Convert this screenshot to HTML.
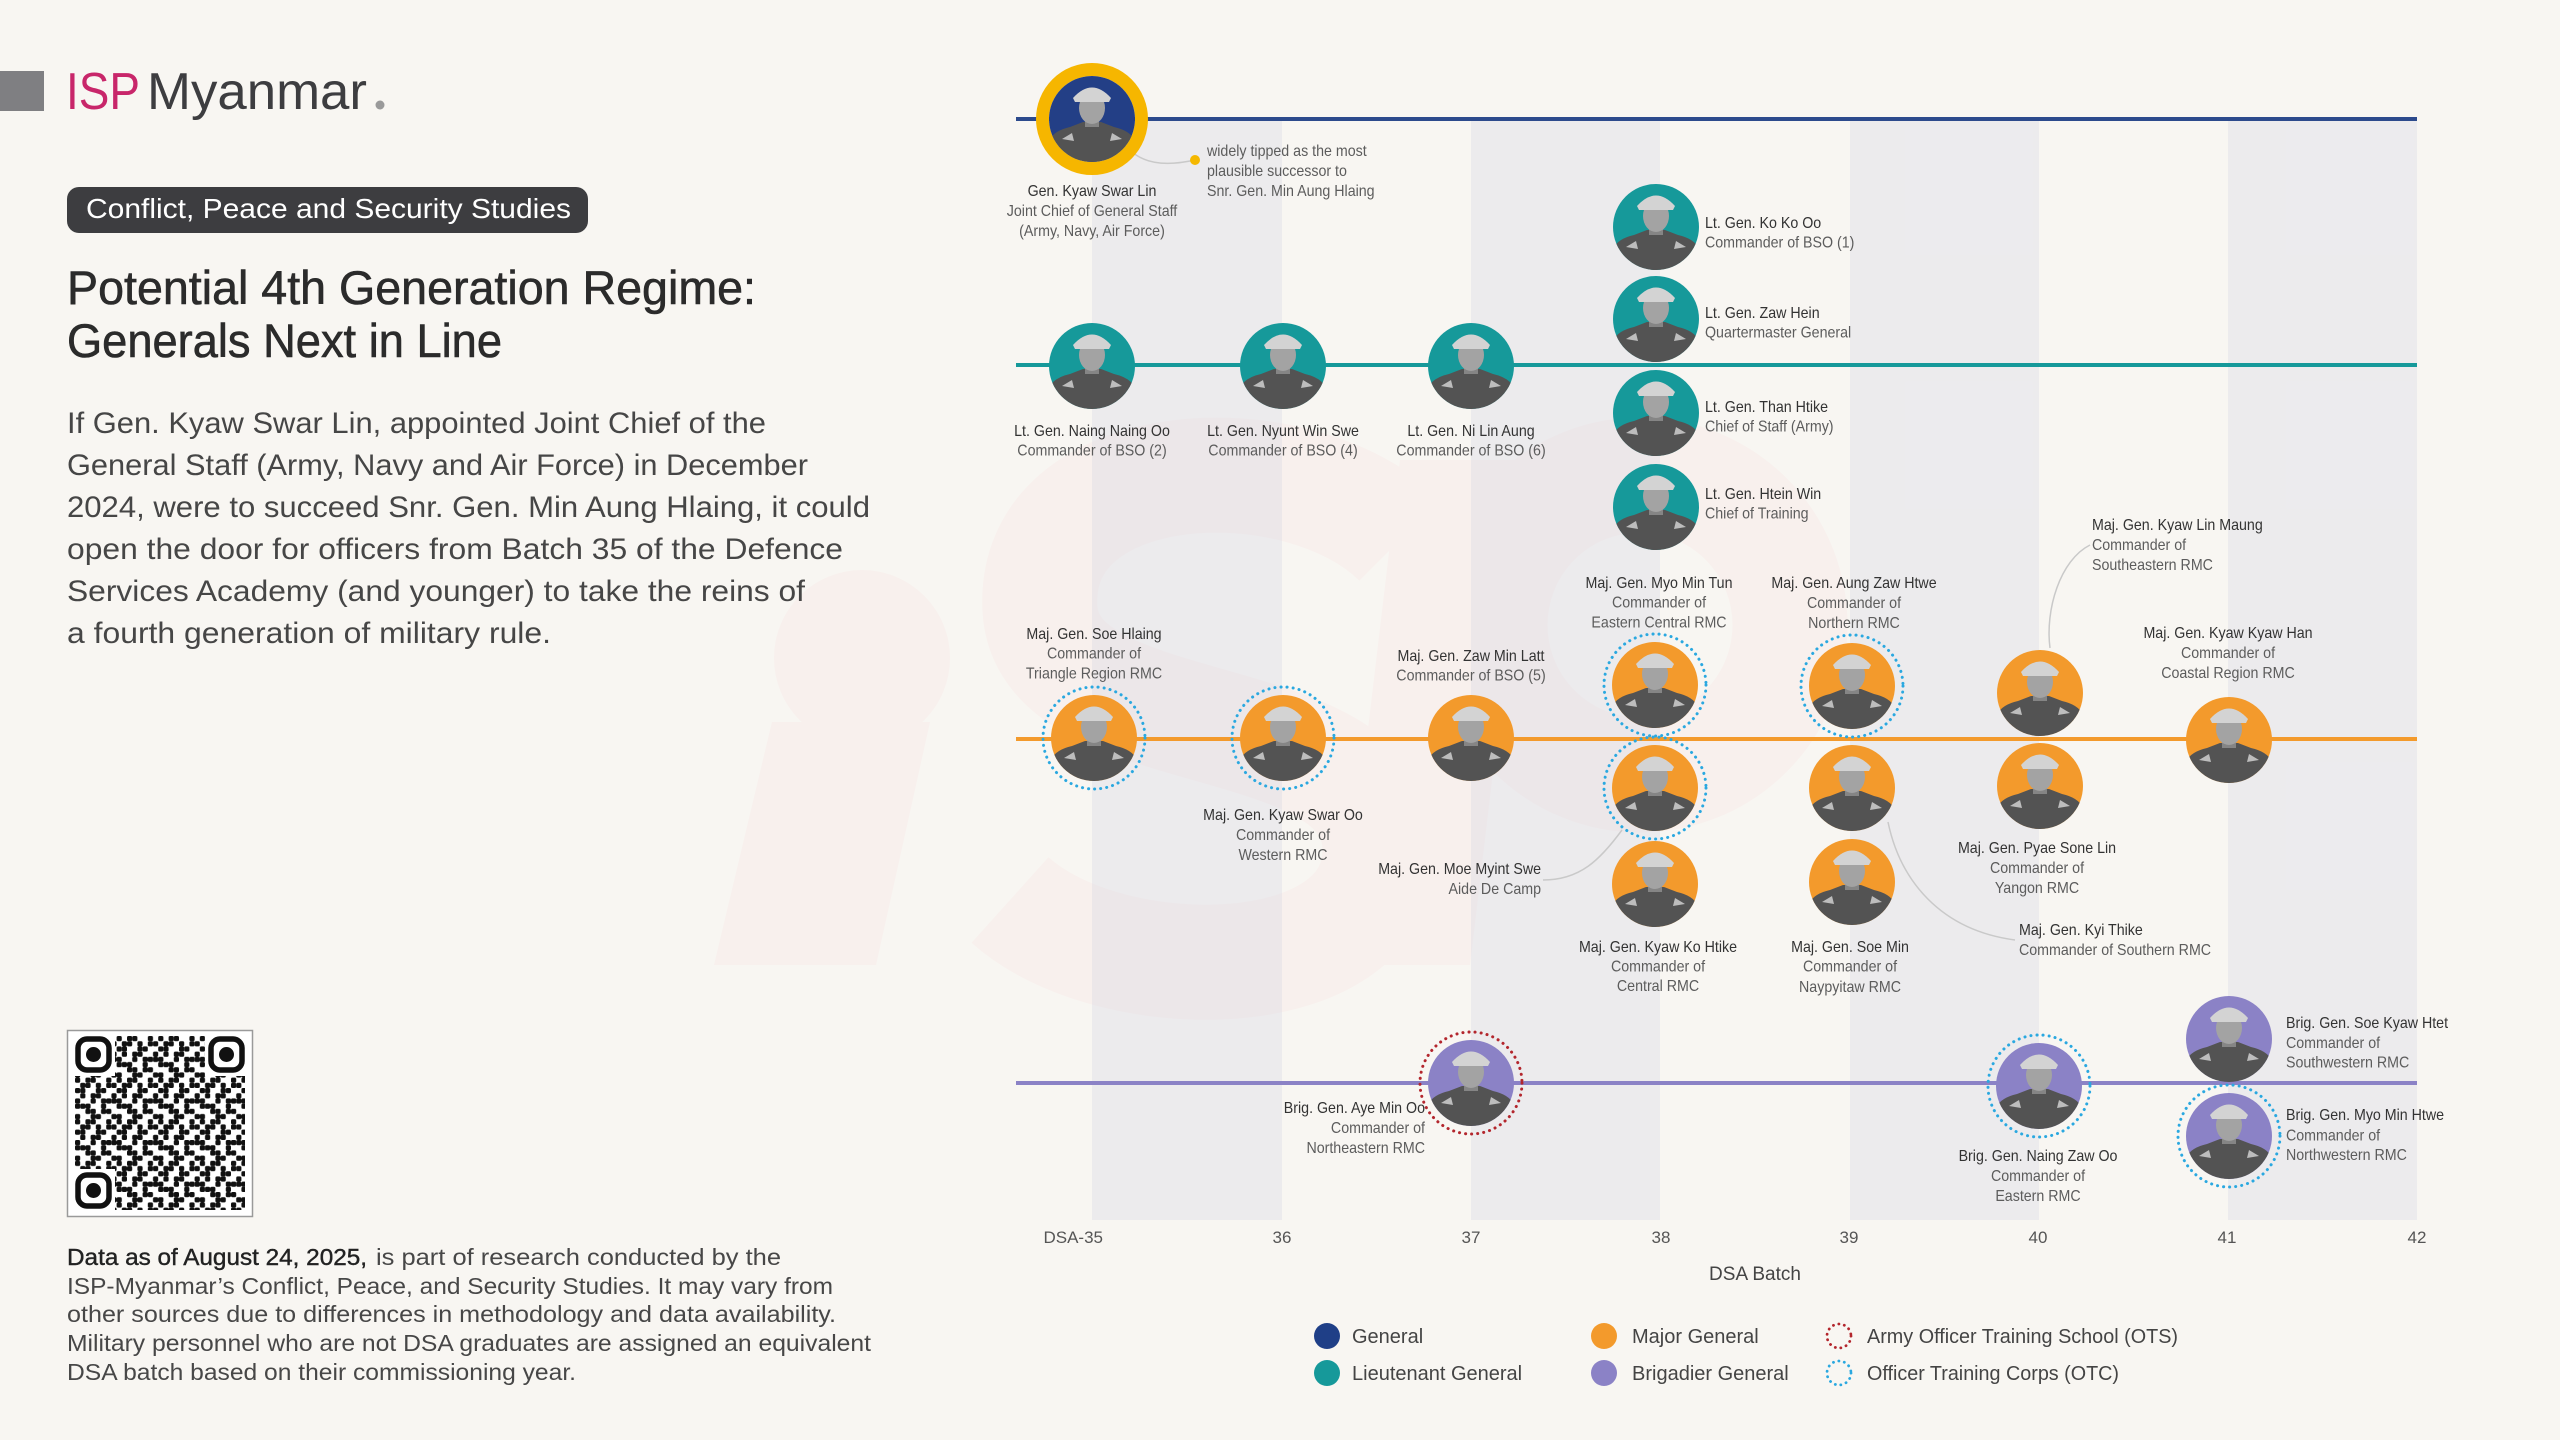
<!DOCTYPE html>
<html>
<head>
<meta charset="utf-8">
<style>
html,body{margin:0;padding:0;background:#f8f6f2;}
svg{display:block;font-family:"Liberation Sans",sans-serif;}
.lb text{font-size:16px;fill:#5c5c5c;}
.lb text.nm{fill:#333;}
.tk{font-size:17px;fill:#555;}
.lg{font-size:20px;fill:#444;}
</style>
</head>
<body>
<svg width="2560" height="1440" viewBox="0 0 2560 1440" xmlns="http://www.w3.org/2000/svg">
<defs>
  <clipPath id="pc"><circle cx="0" cy="0" r="43"/></clipPath>
  <g id="man">
    <path d="M-46 46 L-44 24 Q-40 12 -22 8 L-9 3 L9 3 L22 8 Q40 12 44 24 L46 46 Z" fill="#535353"/>
    <rect x="-7" y="-4" width="14" height="12" fill="#858585"/>
    <ellipse cx="0" cy="-11" rx="13" ry="16" fill="#a3a3a3"/>
    <path d="M-19 -21 Q0 -42 19 -21 L17 -17 L-17 -17 Z" fill="#d3d3d3"/>
    <path d="M-30 20 L-20 14 L-18 22 Z M30 20 L20 14 L18 22 Z" fill="#bdbdbd"/>
  </g>
  <pattern id="qr" x="75" y="1036" width="41.6" height="41.6" patternUnits="userSpaceOnUse">
    <g fill="#111">
      <rect x="0" y="0" width="5.2" height="5.2" rx="1.6"/><rect x="10.4" y="0" width="5.2" height="5.2" rx="1.6"/><rect x="15.6" y="0" width="5.2" height="5.2" rx="1.6"/><rect x="31.2" y="0" width="5.2" height="5.2" rx="1.6"/>
      <rect x="5.2" y="5.2" width="5.2" height="5.2" rx="1.6"/><rect x="10.4" y="5.2" width="5.2" height="5.2" rx="1.6"/><rect x="20.8" y="5.2" width="5.2" height="5.2" rx="1.6"/><rect x="31.2" y="5.2" width="5.2" height="5.2" rx="1.6"/><rect x="36.4" y="5.2" width="5.2" height="5.2" rx="1.6"/>
      <rect x="0" y="10.4" width="5.2" height="5.2" rx="1.6"/><rect x="5.2" y="10.4" width="5.2" height="5.2" rx="1.6"/><rect x="20.8" y="10.4" width="5.2" height="5.2" rx="1.6"/><rect x="26" y="10.4" width="5.2" height="5.2" rx="1.6"/>
      <rect x="5.2" y="15.6" width="5.2" height="5.2" rx="1.6"/><rect x="15.6" y="15.6" width="5.2" height="5.2" rx="1.6"/><rect x="20.8" y="15.6" width="5.2" height="5.2" rx="1.6"/><rect x="36.4" y="15.6" width="5.2" height="5.2" rx="1.6"/>
      <rect x="0" y="20.8" width="5.2" height="5.2" rx="1.6"/><rect x="15.6" y="20.8" width="5.2" height="5.2" rx="1.6"/><rect x="26" y="20.8" width="5.2" height="5.2" rx="1.6"/><rect x="31.2" y="20.8" width="5.2" height="5.2" rx="1.6"/><rect x="36.4" y="20.8" width="5.2" height="5.2" rx="1.6"/>
      <rect x="0" y="26" width="5.2" height="5.2" rx="1.6"/><rect x="5.2" y="26" width="5.2" height="5.2" rx="1.6"/><rect x="10.4" y="26" width="5.2" height="5.2" rx="1.6"/><rect x="26" y="26" width="5.2" height="5.2" rx="1.6"/>
      <rect x="10.4" y="31.2" width="5.2" height="5.2" rx="1.6"/><rect x="15.6" y="31.2" width="5.2" height="5.2" rx="1.6"/><rect x="26" y="31.2" width="5.2" height="5.2" rx="1.6"/><rect x="31.2" y="31.2" width="5.2" height="5.2" rx="1.6"/>
      <rect x="0" y="36.4" width="5.2" height="5.2" rx="1.6"/><rect x="15.6" y="36.4" width="5.2" height="5.2" rx="1.6"/><rect x="20.8" y="36.4" width="5.2" height="5.2" rx="1.6"/><rect x="36.4" y="36.4" width="5.2" height="5.2" rx="1.6"/>
    </g>
  </pattern>
</defs>

<rect x="0" y="0" width="2560" height="1440" fill="#f8f6f2"/>

<!-- faint watermark -->
<g fill="#f8f0ed">
  <circle cx="862" cy="658" r="88"/>
  <polygon points="772,722 930,722 876,965 714,965"/>
  <path d="M1400 540 C1300 440 1030 450 1040 610 C1050 750 1380 700 1380 850 C1380 990 1110 990 1010 900" fill="none" stroke="#f8f0ed" stroke-width="115"/>
  <polygon points="1400,460 1530,460 1470,965 1340,965"/>
  <circle cx="1640" cy="625" r="150" fill="none" stroke="#f8f0ed" stroke-width="115"/>
</g>

<!-- bands -->
<g fill="rgba(200,205,225,0.26)">
  <rect x="1092" y="119" width="190" height="1101"/>
  <rect x="1471" y="119" width="189" height="1101"/>
  <rect x="1850" y="119" width="189" height="1101"/>
  <rect x="2228" y="119" width="189" height="1101"/>
</g>

<!-- logo -->
<rect x="0" y="71" width="44" height="40" fill="#7f7f82"/>
<text x="66" y="109" font-size="52" fill="#c8266a" textLength="74" lengthAdjust="spacingAndGlyphs">ISP</text>
<text x="147" y="109" font-size="52" fill="#3d3d40" textLength="220" lengthAdjust="spacingAndGlyphs">Myanmar</text>
<circle cx="380" cy="105" r="4.5" fill="#9a9a9a"/>

<!-- pill -->
<rect x="67" y="187" width="521" height="46" rx="12" fill="#3d3d40"/>
<text x="86" y="218" font-size="28" fill="#ffffff" textLength="485" lengthAdjust="spacingAndGlyphs">Conflict, Peace and Security Studies</text>

<!-- title -->
<g font-size="47" fill="#2b2b2b" stroke="#2b2b2b" stroke-width="0.6">
  <text x="67" y="304" textLength="689" lengthAdjust="spacingAndGlyphs">Potential 4th Generation Regime:</text>
  <text x="67" y="357" textLength="435" lengthAdjust="spacingAndGlyphs">Generals Next in Line</text>
</g>

<!-- paragraph -->
<g font-size="30" fill="#464646">
  <text x="67" y="433" textLength="699" lengthAdjust="spacingAndGlyphs">If Gen. Kyaw Swar Lin, appointed Joint Chief of the</text>
  <text x="67" y="475" textLength="741" lengthAdjust="spacingAndGlyphs">General Staff (Army, Navy and Air Force) in December</text>
  <text x="67" y="517" textLength="803" lengthAdjust="spacingAndGlyphs">2024, were to succeed Snr. Gen. Min Aung Hlaing, it could</text>
  <text x="67" y="559" textLength="776" lengthAdjust="spacingAndGlyphs">open the door for officers from Batch 35 of the Defence</text>
  <text x="67" y="601" textLength="738" lengthAdjust="spacingAndGlyphs">Services Academy (and younger) to take the reins of</text>
  <text x="67" y="643" textLength="484" lengthAdjust="spacingAndGlyphs">a fourth generation of military rule.</text>
</g>

<!-- QR -->
<rect x="67.5" y="1030.5" width="185" height="186" fill="#ffffff" stroke="#9a9a9a" stroke-width="1.5"/>
<rect x="75" y="1036" width="170" height="174" fill="url(#qr)"/>
<g fill="#ffffff">
  <rect x="73" y="1034" width="42" height="42"/>
  <rect x="205" y="1034" width="42" height="42"/>
  <rect x="73" y="1169" width="42" height="43"/>
</g>
<g fill="none" stroke="#111" stroke-width="5.5">
  <rect x="78" y="1039" width="31" height="31" rx="9"/>
  <rect x="211" y="1039" width="31" height="31" rx="9"/>
  <rect x="78" y="1175" width="31" height="31" rx="9"/>
</g>
<g fill="#111">
  <circle cx="93.5" cy="1054.5" r="7.5"/>
  <circle cx="226.5" cy="1054.5" r="7.5"/>
  <circle cx="93.5" cy="1190.5" r="7.5"/>
</g>

<!-- footer -->
<g font-size="23" fill="#474747">
  <text x="67" y="1265" fill="#222" stroke="#222" stroke-width="0.4" textLength="300" lengthAdjust="spacingAndGlyphs">Data as of August 24, 2025,</text>
  <text x="376" y="1265" textLength="405" lengthAdjust="spacingAndGlyphs">is part of research conducted by the</text>
  <text x="67" y="1294" textLength="766" lengthAdjust="spacingAndGlyphs">ISP-Myanmar’s Conflict, Peace, and Security Studies. It may vary from</text>
  <text x="67" y="1322" textLength="769" lengthAdjust="spacingAndGlyphs">other sources due to differences in methodology and data availability.</text>
  <text x="67" y="1351" textLength="804" lengthAdjust="spacingAndGlyphs">Military personnel who are not DSA graduates are assigned an equivalent</text>
  <text x="67" y="1380" textLength="509" lengthAdjust="spacingAndGlyphs">DSA batch based on their commissioning year.</text>
</g>

<!-- rank lines -->
<rect x="1016" y="117" width="1401" height="4" fill="#2c4a8c"/>
<rect x="1016" y="363" width="1401" height="4" fill="#16999a"/>
<rect x="1016" y="737" width="1401" height="4" fill="#f39a2c"/>
<rect x="1016" y="1081" width="1401" height="4" fill="#8b82c6"/>

<!-- connectors -->
<g fill="none" stroke="#c9c9c9" stroke-width="1.5">
  <path d="M1130 150 Q1150 170 1195 160"/>
  <path d="M1543 880 C1580 880 1600 860 1622 830"/>
  <path d="M2015 940 C1940 930 1900 880 1888 822"/>
  <path d="M2090 545 C2060 560 2045 610 2050 648"/>
</g>
<circle cx="1195" cy="160" r="5" fill="#f5b800"/>

<!-- General portrait -->
<g transform="translate(1092,119)">
  <circle r="49.5" fill="none" stroke="#f6b600" stroke-width="13"/>
  <circle r="43" fill="#233f86"/>
  <use href="#man" clip-path="url(#pc)"/>
</g>

<!-- Lt Gen portraits -->
<g>
  <g transform="translate(1092,366)"><circle r="43" fill="#16999a"/><use href="#man" clip-path="url(#pc)"/></g>
  <g transform="translate(1283,366)"><circle r="43" fill="#16999a"/><use href="#man" clip-path="url(#pc)"/></g>
  <g transform="translate(1471,366)"><circle r="43" fill="#16999a"/><use href="#man" clip-path="url(#pc)"/></g>
  <g transform="translate(1656,227)"><circle r="43" fill="#16999a"/><use href="#man" clip-path="url(#pc)"/></g>
  <g transform="translate(1656,319)"><circle r="43" fill="#16999a"/><use href="#man" clip-path="url(#pc)"/></g>
  <g transform="translate(1656,413)"><circle r="43" fill="#16999a"/><use href="#man" clip-path="url(#pc)"/></g>
  <g transform="translate(1656,507)"><circle r="43" fill="#16999a"/><use href="#man" clip-path="url(#pc)"/></g>
</g>

<!-- Maj Gen portraits -->
<g>
  <g transform="translate(1094,738)"><circle r="43" fill="#f39a2c"/><use href="#man" clip-path="url(#pc)"/><circle r="51" fill="none" stroke="#2aa8e0" stroke-width="3" stroke-dasharray="0.1 6" stroke-linecap="round"/></g>
  <g transform="translate(1283,738)"><circle r="43" fill="#f39a2c"/><use href="#man" clip-path="url(#pc)"/><circle r="51" fill="none" stroke="#2aa8e0" stroke-width="3" stroke-dasharray="0.1 6" stroke-linecap="round"/></g>
  <g transform="translate(1471,738)"><circle r="43" fill="#f39a2c"/><use href="#man" clip-path="url(#pc)"/></g>
  <g transform="translate(1655,685)"><circle r="43" fill="#f39a2c"/><use href="#man" clip-path="url(#pc)"/><circle r="51" fill="none" stroke="#2aa8e0" stroke-width="3" stroke-dasharray="0.1 6" stroke-linecap="round"/></g>
  <g transform="translate(1655,788)"><circle r="43" fill="#f39a2c"/><use href="#man" clip-path="url(#pc)"/><circle r="51" fill="none" stroke="#2aa8e0" stroke-width="3" stroke-dasharray="0.1 6" stroke-linecap="round"/></g>
  <g transform="translate(1655,884)"><circle r="43" fill="#f39a2c"/><use href="#man" clip-path="url(#pc)"/></g>
  <g transform="translate(1852,686)"><circle r="43" fill="#f39a2c"/><use href="#man" clip-path="url(#pc)"/><circle r="51" fill="none" stroke="#2aa8e0" stroke-width="3" stroke-dasharray="0.1 6" stroke-linecap="round"/></g>
  <g transform="translate(1852,788)"><circle r="43" fill="#f39a2c"/><use href="#man" clip-path="url(#pc)"/></g>
  <g transform="translate(1852,882)"><circle r="43" fill="#f39a2c"/><use href="#man" clip-path="url(#pc)"/></g>
  <g transform="translate(2040,693)"><circle r="43" fill="#f39a2c"/><use href="#man" clip-path="url(#pc)"/></g>
  <g transform="translate(2040,786)"><circle r="43" fill="#f39a2c"/><use href="#man" clip-path="url(#pc)"/></g>
  <g transform="translate(2229,740)"><circle r="43" fill="#f39a2c"/><use href="#man" clip-path="url(#pc)"/></g>
</g>

<!-- Brig Gen portraits -->
<g>
  <g transform="translate(1471,1083)"><circle r="43" fill="#8b82c6"/><use href="#man" clip-path="url(#pc)"/><circle r="51" fill="none" stroke="#b3262d" stroke-width="3" stroke-dasharray="0.1 6" stroke-linecap="round"/></g>
  <g transform="translate(2039,1086)"><circle r="43" fill="#8b82c6"/><use href="#man" clip-path="url(#pc)"/><circle r="51" fill="none" stroke="#2aa8e0" stroke-width="3" stroke-dasharray="0.1 6" stroke-linecap="round"/></g>
  <g transform="translate(2229,1039)"><circle r="43" fill="#8b82c6"/><use href="#man" clip-path="url(#pc)"/></g>
  <g transform="translate(2229,1136)"><circle r="43" fill="#8b82c6"/><use href="#man" clip-path="url(#pc)"/><circle r="51" fill="none" stroke="#2aa8e0" stroke-width="3" stroke-dasharray="0.1 6" stroke-linecap="round"/></g>
</g>

<!-- labels -->
<g class="lb" transform="translate(1092,196) scale(0.89,1)" text-anchor="middle"><text class="nm">Gen. Kyaw Swar Lin</text><text y="20">Joint Chief of General Staff</text><text y="40">(Army, Navy, Air Force)</text></g>
<g class="lb" transform="translate(1207,156) scale(0.89,1)"><text>widely tipped as the most</text><text y="20">plausible successor to</text><text y="40">Snr. Gen. Min Aung Hlaing</text></g>

<g class="lb" transform="translate(1092,436) scale(0.89,1)" text-anchor="middle"><text class="nm">Lt. Gen. Naing Naing Oo</text><text y="19.5">Commander of BSO (2)</text></g>
<g class="lb" transform="translate(1283,436) scale(0.89,1)" text-anchor="middle"><text class="nm">Lt. Gen. Nyunt Win Swe</text><text y="19.5">Commander of BSO (4)</text></g>
<g class="lb" transform="translate(1471,436) scale(0.89,1)" text-anchor="middle"><text class="nm">Lt. Gen. Ni Lin Aung</text><text y="19.5">Commander of BSO (6)</text></g>
<g class="lb" transform="translate(1705,228) scale(0.89,1)"><text class="nm">Lt. Gen. Ko Ko Oo</text><text y="19.5">Commander of BSO (1)</text></g>
<g class="lb" transform="translate(1705,318) scale(0.89,1)"><text class="nm">Lt. Gen. Zaw Hein</text><text y="19.5">Quartermaster General</text></g>
<g class="lb" transform="translate(1705,412) scale(0.89,1)"><text class="nm">Lt. Gen. Than Htike</text><text y="19.5">Chief of Staff (Army)</text></g>
<g class="lb" transform="translate(1705,499) scale(0.89,1)"><text class="nm">Lt. Gen. Htein Win</text><text y="19.5">Chief of Training</text></g>

<g class="lb" transform="translate(1094,639) scale(0.89,1)" text-anchor="middle"><text class="nm">Maj. Gen. Soe Hlaing</text><text y="19.7">Commander of</text><text y="39.5">Triangle Region RMC</text></g>
<g class="lb" transform="translate(1283,820) scale(0.89,1)" text-anchor="middle"><text class="nm">Maj. Gen. Kyaw Swar Oo</text><text y="20">Commander of</text><text y="40">Western RMC</text></g>
<g class="lb" transform="translate(1471,661) scale(0.89,1)" text-anchor="middle"><text class="nm">Maj. Gen. Zaw Min Latt</text><text y="19.5">Commander of BSO (5)</text></g>
<g class="lb" transform="translate(1659,588) scale(0.89,1)" text-anchor="middle"><text class="nm">Maj. Gen. Myo Min Tun</text><text y="19.7">Commander of</text><text y="39.5">Eastern Central RMC</text></g>
<g class="lb" transform="translate(1541,874) scale(0.89,1)" text-anchor="end"><text class="nm">Maj. Gen. Moe Myint Swe</text><text y="20">Aide De Camp</text></g>
<g class="lb" transform="translate(1658,952) scale(0.89,1)" text-anchor="middle"><text class="nm">Maj. Gen. Kyaw Ko Htike</text><text y="19.5">Commander of</text><text y="39">Central RMC</text></g>
<g class="lb" transform="translate(1854,588) scale(0.89,1)" text-anchor="middle"><text class="nm">Maj. Gen. Aung Zaw Htwe</text><text y="20">Commander of</text><text y="40">Northern RMC</text></g>
<g class="lb" transform="translate(1850,952) scale(0.89,1)" text-anchor="middle"><text class="nm">Maj. Gen. Soe Min</text><text y="19.5">Commander of</text><text y="40">Naypyitaw RMC</text></g>
<g class="lb" transform="translate(2019,935) scale(0.89,1)"><text class="nm">Maj. Gen. Kyi Thike</text><text y="20">Commander of Southern RMC</text></g>
<g class="lb" transform="translate(2092,530) scale(0.89,1)"><text class="nm">Maj. Gen. Kyaw Lin Maung</text><text y="20">Commander of</text><text y="40">Southeastern RMC</text></g>
<g class="lb" transform="translate(2037,853) scale(0.89,1)" text-anchor="middle"><text class="nm">Maj. Gen. Pyae Sone Lin</text><text y="20">Commander of</text><text y="40">Yangon RMC</text></g>
<g class="lb" transform="translate(2228,638) scale(0.89,1)" text-anchor="middle"><text class="nm">Maj. Gen. Kyaw Kyaw Han</text><text y="20">Commander of</text><text y="40">Coastal Region RMC</text></g>

<g class="lb" transform="translate(1425,1113) scale(0.89,1)" text-anchor="end"><text class="nm">Brig. Gen. Aye Min Oo</text><text y="20">Commander of</text><text y="40">Northeastern RMC</text></g>
<g class="lb" transform="translate(2038,1161) scale(0.89,1)" text-anchor="middle"><text class="nm">Brig. Gen. Naing Zaw Oo</text><text y="20">Commander of</text><text y="40">Eastern RMC</text></g>
<g class="lb" transform="translate(2286,1028) scale(0.89,1)"><text class="nm">Brig. Gen. Soe Kyaw Htet</text><text y="20">Commander of</text><text y="39.5">Southwestern RMC</text></g>
<g class="lb" transform="translate(2286,1120) scale(0.89,1)"><text class="nm">Brig. Gen. Myo Min Htwe</text><text y="20.5">Commander of</text><text y="40">Northwestern RMC</text></g>

<!-- axis ticks -->
<g class="tk">
  <text x="1103" y="1243" text-anchor="end">DSA-35</text>
  <text x="1282" y="1243" text-anchor="middle">36</text>
  <text x="1471" y="1243" text-anchor="middle">37</text>
  <text x="1661" y="1243" text-anchor="middle">38</text>
  <text x="1849" y="1243" text-anchor="middle">39</text>
  <text x="2038" y="1243" text-anchor="middle">40</text>
  <text x="2227" y="1243" text-anchor="middle">41</text>
  <text x="2417" y="1243" text-anchor="middle">42</text>
</g>
<text x="1755" y="1280" font-size="19" fill="#444" text-anchor="middle">DSA Batch</text>

<!-- legend -->
<circle cx="1327" cy="1336" r="13" fill="#1f3f87"/>
<circle cx="1327" cy="1373" r="13" fill="#16999a"/>
<circle cx="1604" cy="1336" r="13" fill="#f39a2c"/>
<circle cx="1604" cy="1373" r="13" fill="#8b82c6"/>
<circle cx="1839" cy="1336" r="12" fill="none" stroke="#b3262d" stroke-width="2.8" stroke-dasharray="0.1 5.5" stroke-linecap="round"/>
<circle cx="1839" cy="1373" r="12" fill="none" stroke="#2aa8e0" stroke-width="2.8" stroke-dasharray="0.1 5.5" stroke-linecap="round"/>
<g class="lg">
  <text x="1352" y="1343">General</text>
  <text x="1352" y="1380">Lieutenant General</text>
  <text x="1632" y="1343">Major General</text>
  <text x="1632" y="1380">Brigadier General</text>
  <text x="1867" y="1343" textLength="311" lengthAdjust="spacingAndGlyphs">Army Officer Training School (OTS)</text>
  <text x="1867" y="1380" textLength="252" lengthAdjust="spacingAndGlyphs">Officer Training Corps (OTC)</text>
</g>
</svg>
</body>
</html>
